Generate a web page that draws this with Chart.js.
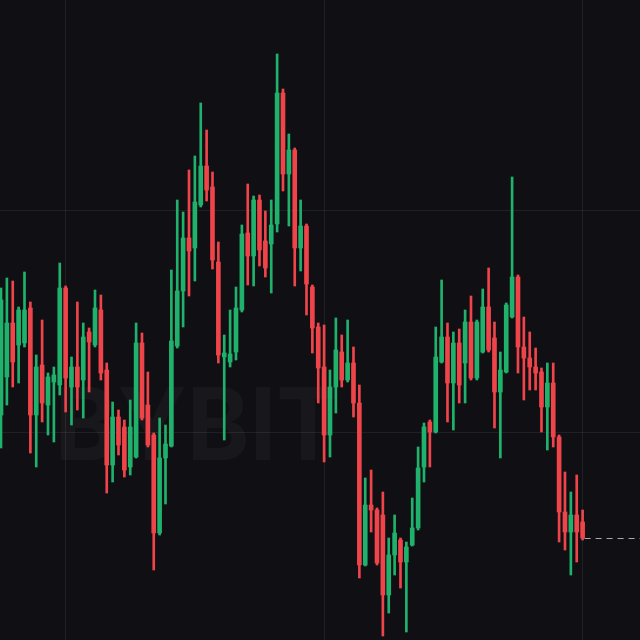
<!DOCTYPE html>
<html>
<head>
<meta charset="utf-8">
<title>Candles</title>
<script src="https://cdn.jsdelivr.net/npm/chart.js@4.4.1/dist/chart.umd.min.js"></script>
<style>
  html, body { margin: 0; padding: 0; background: #101014; }
  #wrap { width: 640px; height: 640px; position: relative; }
</style>
</head>
<body>
<div id="wrap"><canvas id="candles"></canvas></div>
<script>
// candle data, one entry per bar (left to right)
const opens = [26085, 26275, 26545, 26435, 26445, 26620, 26085, 26335, 26135, 26250,
  26235, 26720, 26225, 26325, 26260, 26500, 26435, 26610, 26310, 25835,
  26075, 26025, 25825, 25875, 26445, 26135, 25985, 25495, 25870, 25930,
  26430, 26705, 26970, 26920, 27135, 27330, 27225, 26850, 26375, 26350,
  26400, 26610, 26995, 26880, 27160, 26955, 26940, 27040, 27695, 27290,
  27410, 26920, 27030, 26725, 26525, 26325, 25985, 26225, 26400, 26260,
  26345, 26145, 25335, 25635, 25610, 25585, 25185, 25385, 25460, 25350,
  25435, 25520, 25825, 26050, 26000, 26350, 26475, 26245, 26445, 26345,
  26550, 26270, 26400, 26625, 26470, 26200, 26300, 26575, 26775, 26425,
  26370, 26325, 26300, 26125, 26245, 25975, 25600, 25500, 25585, 25550];

const highs = [26720, 26770, 26755, 26625, 26800, 26650, 26385, 26560, 26295, 26325,
  26845, 26730, 26375, 26650, 26545, 26520, 26710, 26685, 26345, 26150,
  26110, 26060, 26160, 26545, 26495, 26300, 25995, 26070, 26035, 26810,
  27160, 27100, 27310, 27380, 27645, 27510, 27300, 26950, 26485, 26610,
  26725, 27035, 27240, 27180, 27185, 27105, 27160, 27890, 27715, 27490,
  27420, 27160, 27040, 26735, 26545, 26535, 26310, 26570, 26485, 26560,
  26425, 26235, 25770, 25810, 25620, 25700, 25470, 25585, 25470, 25450,
  25670, 25925, 26045, 26060, 26525, 26760, 26545, 26500, 26515, 26610,
  26680, 26560, 26715, 26820, 26550, 26400, 26645, 27275, 26785, 26575,
  26500, 26420, 26320, 26345, 26345, 25985, 25800, 25700, 25785, 25610];

const lows = [25920, 26135, 26225, 26245, 26425, 25895, 25825, 26050, 25985, 25950,
  26185, 26100, 26035, 26110, 26070, 26200, 26425, 26260, 25695, 25750,
  25885, 25775, 25785, 25870, 26060, 25925, 25310, 25485, 25640, 25925,
  26420, 26525, 26680, 26755, 27125, 27155, 26815, 26345, 25960, 26325,
  26360, 26600, 26735, 26730, 26830, 26775, 26695, 27000, 27205, 27030,
  26730, 26805, 26585, 26395, 26145, 25850, 25875, 26095, 26225, 26250,
  26075, 25270, 25330, 25500, 25335, 24980, 25095, 25285, 25220, 25000,
  25430, 25510, 25750, 25825, 25995, 26345, 26050, 26010, 26145, 26145,
  26260, 26260, 26395, 26400, 26020, 25870, 26295, 26570, 26295, 26160,
  26210, 26210, 26000, 25910, 25925, 25450, 25410, 25285, 25350, 25460];

const closes = [26660, 26545, 26350, 26610, 26610, 26085, 26325, 26145, 26275, 26285,
  26720, 26270, 26325, 26225, 26475, 26450, 26620, 26295, 25835, 26075,
  25935, 25810, 26025, 26445, 26070, 25935, 25495, 25870, 25940, 26455,
  26705, 26970, 26905, 27150, 27330, 27210, 26860, 26385, 26395, 26390,
  26620, 26990, 26880, 27160, 26910, 26820, 27035, 27695, 27290, 27410,
  26920, 27030, 26740, 26520, 26320, 25985, 26225, 26410, 26260, 26345,
  26145, 25335, 25635, 25610, 25345, 25185, 25385, 25495, 25350, 25425,
  25520, 25820, 26025, 26000, 26375, 26475, 26245, 26445, 26235, 26550,
  26270, 26550, 26625, 26410, 26200, 26310, 26635, 26775, 26425, 26370,
  26325, 26295, 26125, 26245, 25975, 25600, 25500, 25585, 25500, 25470];

// where the faint grid lines sit (bar index / price)
const xGridAt = [11, 55, 99];
const yGridAt = [26000, 27110];

const UP = '#20b26c';
const DOWN = '#ef454a';

const colors = closes.map((c, i) => c >= opens[i] ? UP : DOWN);
const wicks = lows.map((l, i) => ({ x: i, y: [l, highs[i]] }));
const bodies = opens.map((o, i) => {
    let lo = Math.min(o, closes[i]);
    let hi = Math.max(o, closes[i]);
    if (hi - lo < 6) { hi = lo + 6; } // keep dojis visible
    return { x: i, y: [lo, hi] };
});

// faint BYBIT watermark behind the candles
const watermark = {
    id: 'watermark',
    beforeDatasetsDraw(chart) {
        const ctx = chart.ctx;
        ctx.save();
        ctx.font = 'bold 100px Inter, "DejaVu Sans", sans-serif';
        ctx.fillStyle = 'rgba(255,255,255,0.035)';
        ctx.textAlign = 'center';
        ctx.textBaseline = 'middle';
        ctx.fillText('BYBIT', 197, 430, 285);
        ctx.restore();
    }
};

// dashed line at the last close
const lastPrice = {
    id: 'lastPrice',
    afterDatasetsDraw(chart) {
        const { ctx, scales, chartArea } = chart;
        const last = closes.length - 1;
        const y = Math.round(scales.y.getPixelForValue(closes[last])) + 0.5;
        const x0 = scales.x.getPixelForValue(last) + 2;
        ctx.save();
        ctx.strokeStyle = 'rgba(185,185,192,0.9)';
        ctx.lineWidth = 1;
        ctx.setLineDash([6, 5]);
        ctx.beginPath();
        ctx.moveTo(x0, y);
        ctx.lineTo(chartArea.right, y);
        ctx.stroke();
        ctx.restore();
    }
};

const ctx = document.getElementById('candles').getContext('2d');
new Chart(ctx, {
    type: 'bar',
    data: {
        datasets: [{
            label: 'wick',
            data: wicks,
            backgroundColor: colors,
            barThickness: 2,
            grouped: false,
            borderWidth: 0
        }, {
            label: 'body',
            data: bodies,
            backgroundColor: colors,
            barThickness: 4,
            grouped: false,
            borderWidth: 0
        }]
    },
    options: {
        responsive: true,
        maintainAspectRatio: false,
        animation: false,
        layout: { padding: 0 },
        plugins: {
            legend: { display: false },
            tooltip: { enabled: false }
        },
        scales: {
            x: {
                type: 'linear',
                min: -0.17,
                max: 108.77,
                offset: false,
                afterBuildTicks: (scale) => { scale.ticks = xGridAt.map(v => ({ value: v })); },
                ticks: { display: false },
                border: { display: false },
                grid: { color: 'rgba(255,255,255,0.07)', drawTicks: false, offset: false }
            },
            y: {
                min: 24960,
                max: 28160,
                afterBuildTicks: (scale) => { scale.ticks = yGridAt.map(v => ({ value: v })); },
                ticks: { display: false },
                border: { display: false },
                grid: { color: 'rgba(255,255,255,0.07)', drawTicks: false }
            }
        }
    },
    plugins: [watermark, lastPrice]
});
</script>
</body>
</html>
